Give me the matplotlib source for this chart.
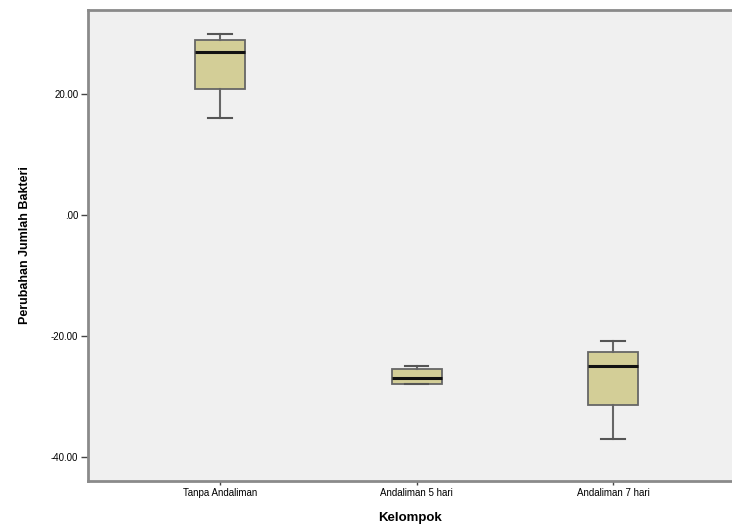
import matplotlib
matplotlib.use('Agg')
import matplotlib.pyplot as plt

plt.rcParams['font.family'] = ['Liberation Sans', 'DejaVu Sans']

# ringkasan boxplot per kelompok (dari output SPSS)
kelompok = ['Tanpa Andaliman', 'Andaliman 5 hari', 'Andaliman 7 hari']
whis_lo = [16.0, -28.0, -37.0]
q1 = [20.9, -28.0, -31.4]
median = [27.0, -27.0, -25.0]
q3 = [29.0, -25.5, -22.6]
whis_hi = [29.9, -24.9, -20.9]

yticks = [20, 0, -20, -40]
ytick_labels = ['20.00', '.00', '-20.00', '-40.00']

stats = [{'label': k, 'whislo': lo, 'q1': a, 'med': m, 'q3': b, 'whishi': hi, 'fliers': []}
         for k, lo, a, m, b, hi in zip(kelompok, whis_lo, q1, median, q3, whis_hi)]

fig = plt.figure(figsize=(7.32, 5.30), dpi=100)
ax = fig.add_axes([88 / 732, 1 - 481 / 530, 644 / 732, 471 / 530])
ax.set_facecolor('#f0f0f0')

pos = [1, 2, 3]
ax.bxp(stats, positions=pos, widths=0.255, capwidths=0.12, patch_artist=True,
       showfliers=False,
       boxprops=dict(facecolor='#d3ce97', edgecolor='#666666', linewidth=1.3),
       medianprops=dict(color='#111111', linewidth=2.2),
       whiskerprops=dict(color='#666666', linewidth=1.5),
       capprops=dict(color='#555555', linewidth=1.5))

ax.set_xlim(0.328, 3.605)
ax.set_ylim(-44.0, 33.9)
ax.set_xticks(pos)
ax.set_xticklabels(kelompok, fontsize=7)
ax.set_yticks(yticks)
ax.set_yticklabels(ytick_labels, fontsize=7)
ax.tick_params(axis='y', length=5, width=1, color='#444444', pad=2)
ax.tick_params(axis='x', length=3, width=1, color='#444444', pad=2)

for side in ['left', 'bottom', 'top']:
    ax.spines[side].set_color('#8a8a8a')
    ax.spines[side].set_linewidth(2)
ax.spines['right'].set_visible(False)

ax.set_xlabel('Kelompok', fontsize=9.5, fontweight='bold', labelpad=10)
ax.set_ylabel('Perubahan Jumlah Bakteri', fontsize=9, fontweight='bold', labelpad=14)

fig.savefig('out.png', dpi=100)
